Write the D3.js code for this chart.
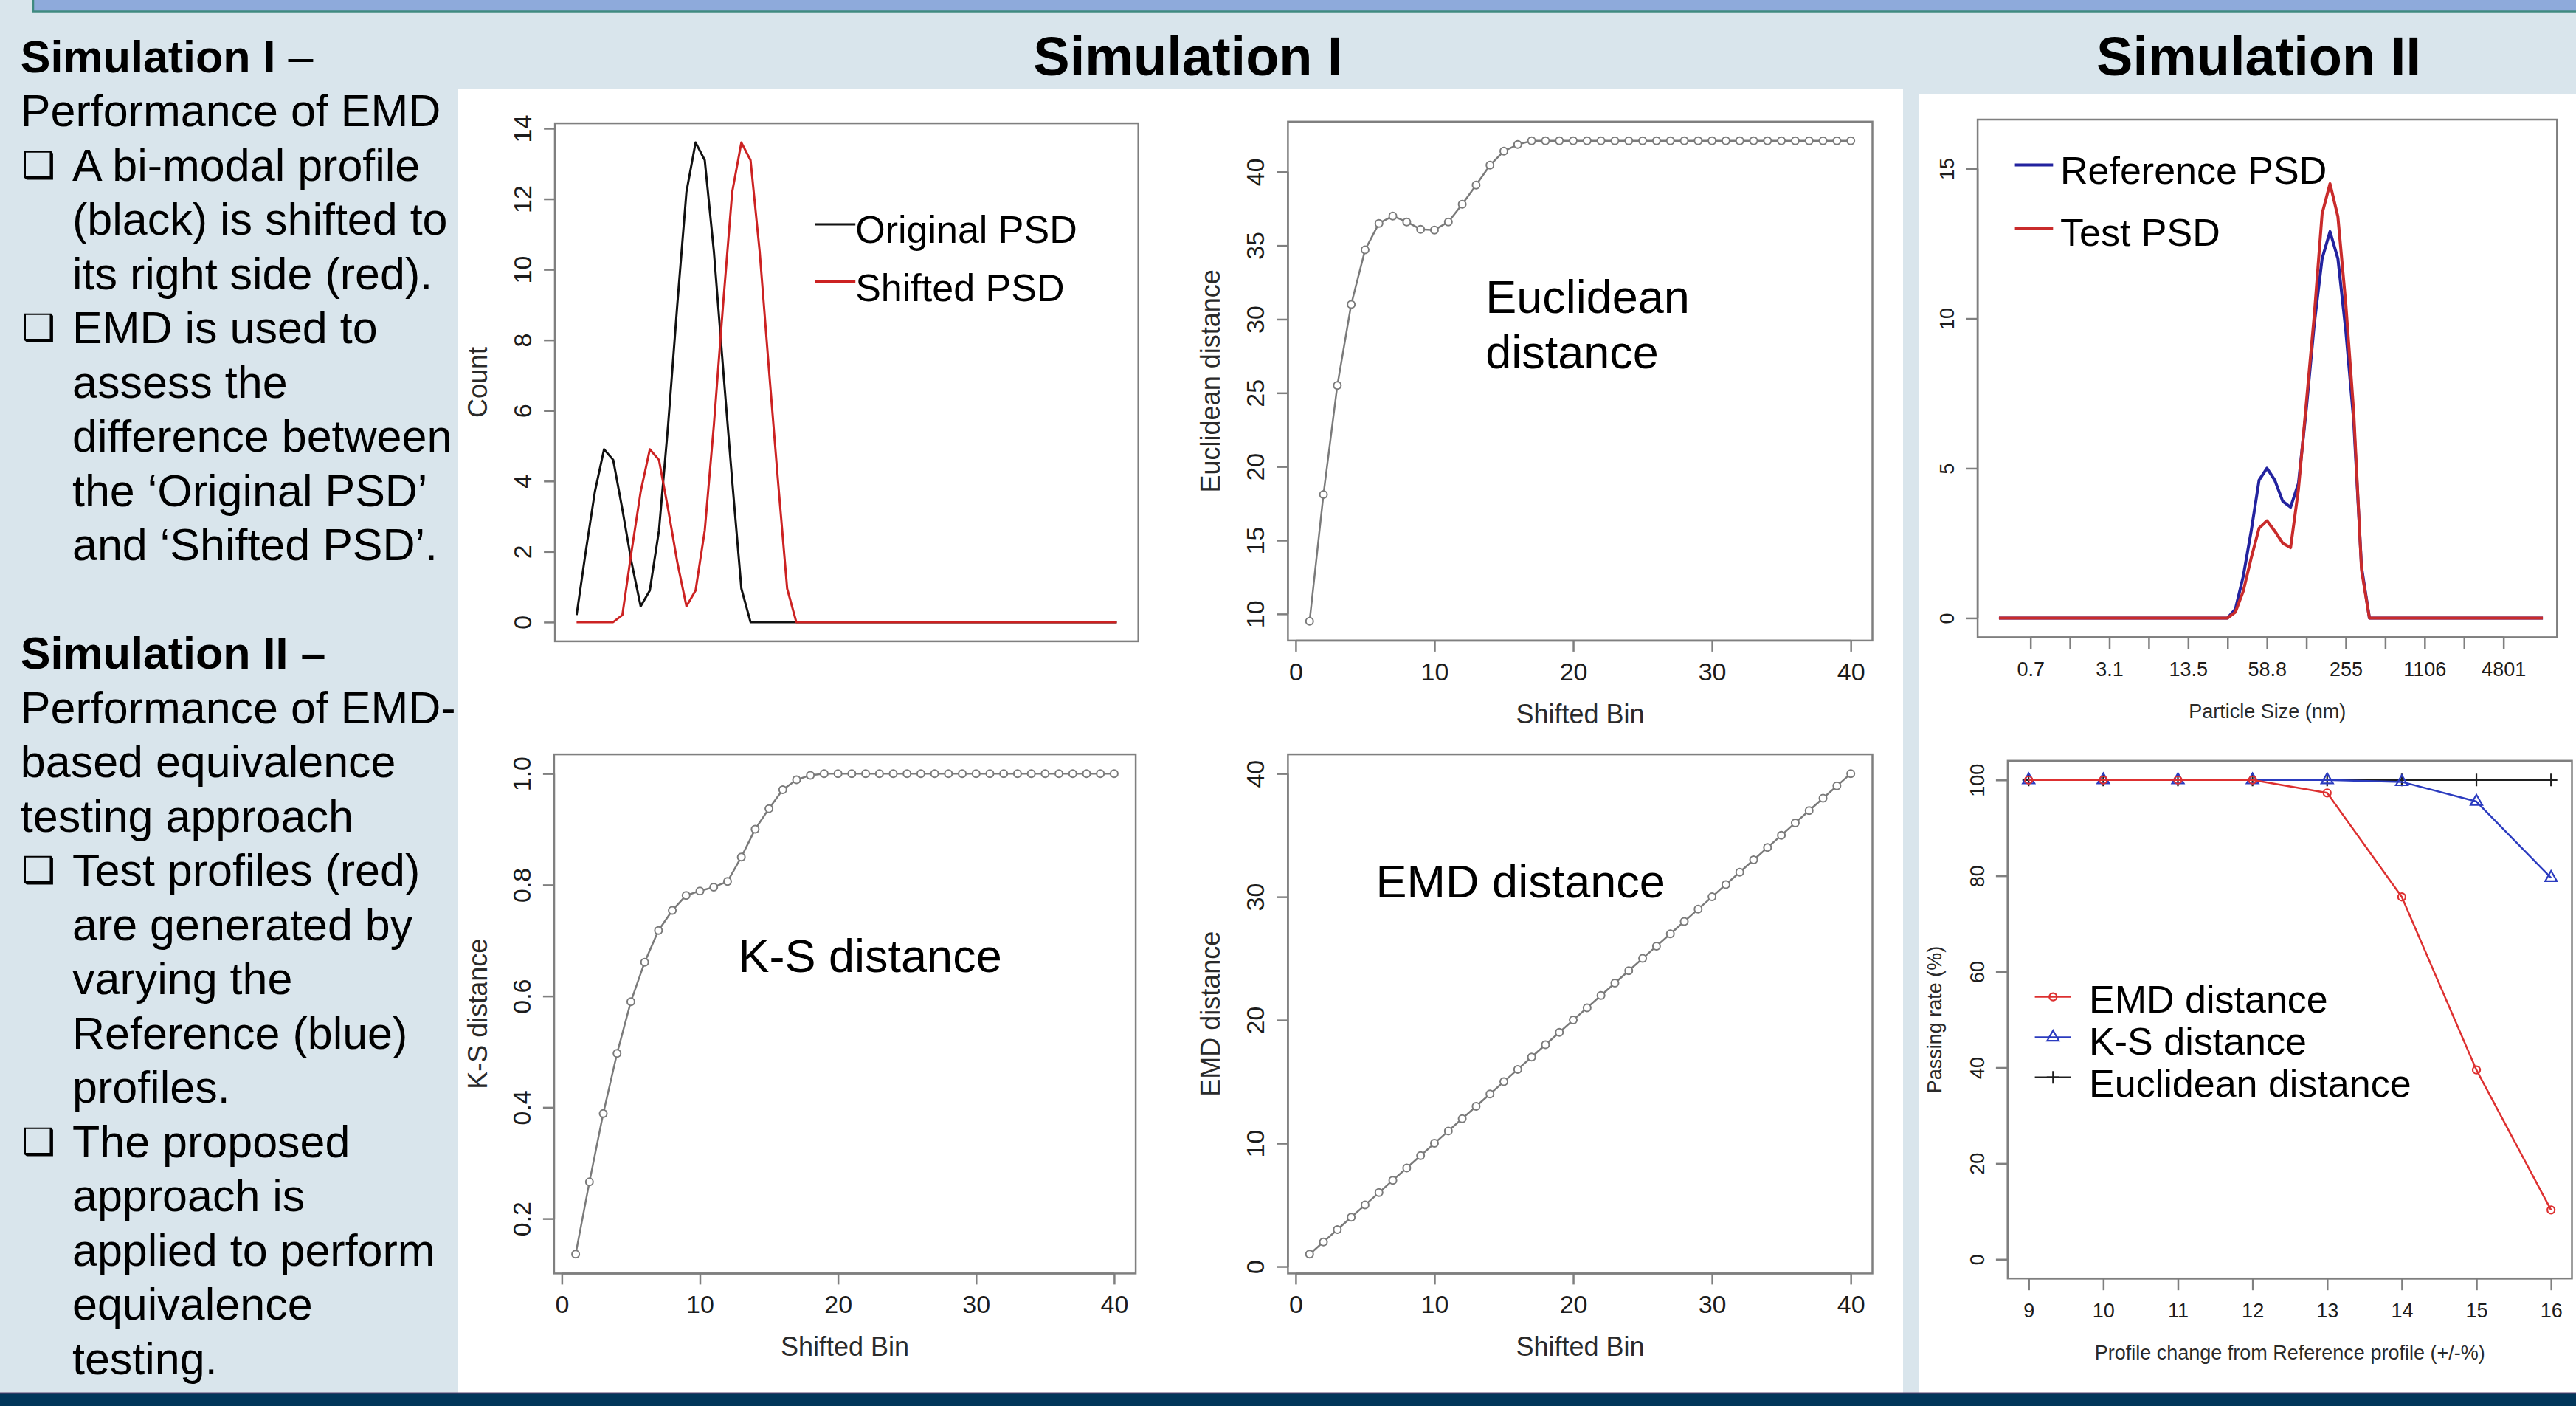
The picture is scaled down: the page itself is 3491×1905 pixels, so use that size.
<!DOCTYPE html>
<html><head><meta charset="utf-8">
<script src="https://cdn.jsdelivr.net/npm/d3@7"></script>
<style>html,body{margin:0;padding:0;background:#d9e5ec;} svg{display:block;}</style>
</head><body><svg id="chart" width="3491" height="1905"></svg>
<script>
// ---------------- DATA ----------------
const originalPSD = [0.2,2.0,3.7,4.9,4.6,3.2,1.7,0.45,0.9,2.6,5.6,9.0,12.2,13.6,13.1,10.5,7.2,4.0,0.95,0,
  0,0,0,0,0,0,0,0,0,0,0,0,0,0,0,0,0,0,0,0,0,0,0,0,0,0,0,0,0,0,0,0,0,0,0,0,0,0,0,0];
const shiftedPSD = [0,0,0,0,0,0.2,2.0,3.7,4.9,4.6,3.2,1.7,0.45,0.9,2.6,5.6,9.0,12.2,13.6,13.1,10.5,7.2,4.0,0.95,0,
  0,0,0,0,0,0,0,0,0,0,0,0,0,0,0,0,0,0,0,0,0,0,0,0,0,0,0,0,0,0,0,0,0,0,0];
const countTicks = [0,2,4,6,8,10,12,14];

const shiftedBinTicks = [0,10,20,30,40];
const euclideanDist = [9.5,18.1,25.5,31.0,34.7,36.5,37.0,36.6,36.1,36.05,36.6,37.8,39.1,40.45,41.4,41.85,
  42.1,42.1,42.1,42.1,42.1,42.1,42.1,42.1,42.1,42.1,42.1,42.1,42.1,42.1,42.1,42.1,42.1,42.1,42.1,42.1,42.1,42.1,42.1,42.1];
const euclideanTicks = [10,15,20,25,30,35,40];
const ksDist = [0.136,0.266,0.389,0.497,0.59,0.661,0.718,0.754,0.781,0.789,0.796,0.806,0.85,0.90,0.937,0.971,0.989,0.997,
  1,1,1,1,1,1,1,1,1,1,1,1,1,1,1,1,1,1,1,1,1,1];
const ksTicks = [0.2,0.4,0.6,0.8,1.0];
const emdDist = [1,2,3,4,5,6,7,8,9,10,11,12,13,14,15,16,17,18,19,20,21,22,23,24,25,26,27,28,29,30,31,32,33,34,35,36,37,38,39,40];
const emdTicks = [0,10,20,30,40];

const referencePSD = [0,0,0,0,0,0,0,0,0,0,0,0,0,0,0,0,0,0,0,0,0,0,0,0,0,0,0,0,0,
  0,0.3,1.4,2.9,4.6,5.0,4.6,3.9,3.7,4.5,7.0,9.8,12.0,12.9,12.0,9.6,6.6,1.7,0,
  0,0,0,0,0,0,0,0,0,0,0,0,0,0,0,0,0,0,0,0,0,0];
const testPSD = [0,0,0,0,0,0,0,0,0,0,0,0,0,0,0,0,0,0,0,0,0,0,0,0,0,0,0,0,0,
  0,0.2,0.9,2.0,3.0,3.25,2.9,2.5,2.35,4.3,7.2,10.1,13.5,14.5,13.4,10.5,6.9,1.6,0,
  0,0,0,0,0,0,0,0,0,0,0,0,0,0,0,0,0,0,0,0,0,0];
const psdTickBins = [5,10,15,20,25,30,35,40,45,50,55,60,65];
const psdTickLabels = ["0.7","","3.1","","13.5","","58.8","","255","","1106","","4801"];
const psdYTicks = [0,5,10,15];

const profileChange = [9,10,11,12,13,14,15,16];
const passEMD = [100,100,100,100,97.3,75.6,39.5,10.3];
const passKS = [100,100,100,100,100,99.6,95.5,79.6];
const passEuclid = [100,100,100,100,100,100,100,100];
const passYTicks = [0,20,40,60,80,100];

// ---------------- DRAWING ----------------
const FONT = '"Liberation Sans", Arial, Helvetica, sans-serif';
const svg = d3.select("#chart");
const AX = "#7f7f7f";

svg.append("rect").attr("width",3491).attr("height",1905).attr("fill","#d9e5ec");
// top bar
svg.append("rect").attr("x",45).attr("y",0).attr("width",3446).attr("height",15).attr("fill","#8eaadb");
svg.append("line").attr("x1",45).attr("x2",45).attr("y1",0).attr("y2",16).attr("stroke","#3f8a80").attr("stroke-width",2.5);
svg.append("line").attr("x1",44).attr("x2",3491).attr("y1",15.5).attr("y2",15.5).attr("stroke","#3f8a80").attr("stroke-width",2.5);
// panels
svg.append("rect").attr("x",621).attr("y",121).attr("width",1958).attr("height",1767).attr("fill","#ffffff");
svg.append("rect").attr("x",2601).attr("y",127).attr("width",890).attr("height",1761).attr("fill","#ffffff");
// bottom bar
svg.append("rect").attr("x",0).attr("y",1887).attr("width",3491).attr("height",18).attr("fill","#02365a");
svg.append("line").attr("x1",0).attr("x2",3491).attr("y1",1887.5).attr("y2",1887.5).attr("stroke","#5b4270").attr("stroke-width",2);

function txt(parent, x, y, s, o = {}) {
  return parent.append("text").attr("x", x).attr("y", y).text(s)
    .attr("font-family", o.family || FONT).attr("font-size", o.fs || 20)
    .attr("font-weight", o.weight || 400).attr("fill", o.fill || "#000")
    .attr("text-anchor", o.anchor || "start");
}

// section titles
txt(svg, 1610, 101.5, "Simulation I", {fs:74, weight:700, anchor:"middle"});
txt(svg, 3061, 101.5, "Simulation II", {fs:74, weight:700, anchor:"middle"});

// left text
const leftLines = [
  {k:0, parts:[["Simulation I",700],[" –",400]]},
  {k:1, parts:[["Performance of EMD",400]]},
  {k:2, b:true, parts:[["A bi-modal profile",400]]},
  {k:3, i:true, parts:[["(black) is shifted to",400]]},
  {k:4, i:true, parts:[["its right side (red).",400]]},
  {k:5, b:true, parts:[["EMD is used to",400]]},
  {k:6, i:true, parts:[["assess the",400]]},
  {k:7, i:true, parts:[["difference between",400]]},
  {k:8, i:true, parts:[["the ‘Original PSD’",400]]},
  {k:9, i:true, parts:[["and ‘Shifted PSD’.",400]]},
  {k:11, parts:[["Simulation II –",700]]},
  {k:12, parts:[["Performance of EMD-",400]]},
  {k:13, parts:[["based equivalence",400]]},
  {k:14, parts:[["testing approach",400]]},
  {k:15, b:true, parts:[["Test profiles (red)",400]]},
  {k:16, i:true, parts:[["are generated by",400]]},
  {k:17, i:true, parts:[["varying the",400]]},
  {k:18, i:true, parts:[["Reference (blue)",400]]},
  {k:19, i:true, parts:[["profiles.",400]]},
  {k:20, b:true, parts:[["The proposed",400]]},
  {k:21, i:true, parts:[["approach is",400]]},
  {k:22, i:true, parts:[["applied to perform",400]]},
  {k:23, i:true, parts:[["equivalence",400]]},
  {k:24, i:true, parts:[["testing.",400]]}
];
leftLines.forEach(L => {
  const yb = 97.7 + 73.5 * L.k;
  const xs = (L.b || L.i) ? 98 : 27.8;
  const t = svg.append("text").attr("x", xs).attr("y", yb).attr("font-family", FONT).attr("font-size", 61).attr("fill","#000");
  L.parts.forEach(p => t.append("tspan").attr("font-weight", p[1]).text(p[0]));
  if (L.b) {
    svg.append("text").attr("x", 30).attr("y", yb - 4).attr("font-family", '"DejaVu Sans", sans-serif')
      .attr("font-size", 50).attr("fill","#000").text("❑");
  }
});

function rExpand(ext) { const d = (ext[1] - ext[0]) * 0.04; return [ext[0] - d, ext[1] + d]; }

function makePlot(c) {
  const g = svg.append("g");
  const [x0,y0,x1,y1] = c.box;
  const x = d3.scaleLinear().domain(c.xdom).range([x0,x1]);
  const y = d3.scaleLinear().domain(c.ydom).range([y1,y0]);
  if (c.xticks) {
    const ax = g.append("g").attr("transform", `translate(0,${y1})`)
      .call(d3.axisBottom(x).tickValues(c.xticks).tickSize(c.tick).tickFormat(c.xfmt || (d => String(d))));
    ax.select(".domain").remove();
    ax.attr("font-size", c.fs).attr("font-family", FONT);
    ax.selectAll(".tick line").attr("stroke", AX).attr("stroke-width", 2.5);
    ax.selectAll(".tick text").attr("y", c.xlabOff).attr("dy", 0).attr("fill", "#1c1c1c");
    ax.append("line").attr("x1", x(c.xticks[0])).attr("x2", x(c.xticks[c.xticks.length-1]))
      .attr("stroke", AX).attr("stroke-width", 2.5);
  }
  const ay = g.append("g").attr("transform", `translate(${x0},0)`)
    .call(d3.axisLeft(y).tickValues(c.yticks).tickSize(c.tick).tickFormat(c.yfmt || (d => String(d))));
  ay.select(".domain").remove();
  ay.attr("font-size", c.fs).attr("font-family", FONT);
  ay.selectAll(".tick line").attr("stroke", AX).attr("stroke-width", 2.5);
  ay.selectAll(".tick text").attr("x", 0).attr("y", -c.ylabOff).attr("dy", 0)
    .attr("transform", "rotate(-90)").attr("text-anchor", "middle").attr("fill", "#1c1c1c");
  ay.append("line").attr("y1", y(c.yticks[0])).attr("y2", y(c.yticks[c.yticks.length-1]))
    .attr("stroke", AX).attr("stroke-width", 2.5);
  g.append("rect").attr("x", x0).attr("y", y0).attr("width", x1 - x0).attr("height", y1 - y0)
    .attr("fill", "none").attr("stroke", AX).attr("stroke-width", 2.5);
  if (c.xtitle) {
    txt(g, (x0 + x1) / 2, y1 + c.xtitleOff, c.xtitle, {fs: c.tfs, anchor: "middle", fill: "#2a2a2a"});
  }
  if (c.ytitle) {
    txt(g, 0, 0, c.ytitle, {fs: c.tfs, anchor: "middle", fill: "#2a2a2a"})
      .attr("transform", `translate(${x0 - c.ytitleOff},${(y0 + y1) / 2}) rotate(-90)`);
  }
  return {g, x, y};
}

function drawLine(p, data, color, w, xacc) {
  p.g.append("path").datum(data)
    .attr("d", d3.line().x((d,i) => p.x(xacc ? xacc(i) : i + 1)).y(d => p.y(d)))
    .attr("fill", "none").attr("stroke", color).attr("stroke-width", w).attr("stroke-linejoin", "round");
}
function drawCircles(p, data, color, r, fill, xacc) {
  p.g.append("g").selectAll("circle").data(data).join("circle")
    .attr("cx", (d,i) => p.x(xacc ? xacc(i) : i + 1)).attr("cy", d => p.y(d)).attr("r", r)
    .attr("fill", fill).attr("stroke", color).attr("stroke-width", 2);
}

// ---- Plot 1: Count ----
const p1 = makePlot({box:[752.1,167.1,1542.7,868.9], xdom: rExpand([1, originalPSD.length]),
  ydom: rExpand(d3.extent(originalPSD.concat(shiftedPSD))), yticks: countTicks, tick: 15, fs: 34,
  ylabOff: 32, tfs: 36, ytitle: "Count", ytitleOff: 92});
drawLine(p1, originalPSD, "#111111", 3);
drawLine(p1, shiftedPSD, "#cc2222", 3);
p1.g.append("line").attr("x1",1104.7).attr("x2",1159.2).attr("y1",304).attr("y2",304).attr("stroke","#111").attr("stroke-width",3);
p1.g.append("line").attr("x1",1104.7).attr("x2",1159.2).attr("y1",381.5).attr("y2",381.5).attr("stroke","#cc2222").attr("stroke-width",3);
txt(p1.g, 1159.2, 329.2, "Original PSD", {fs:52});
txt(p1.g, 1159.2, 407.6, "Shifted PSD", {fs:52});

// ---- Plot 2: Euclidean ----
const p2 = makePlot({box:[1745.4,164.8,2537.5,867.9], xdom: rExpand([1,40]), ydom: rExpand(d3.extent(euclideanDist)),
  xticks: shiftedBinTicks, yticks: euclideanTicks, tick: 15, fs: 34, xlabOff: 54, ylabOff: 32,
  tfs: 36, xtitle: "Shifted Bin", xtitleOff: 112, ytitle: "Euclidean distance", ytitleOff: 92});
drawLine(p2, euclideanDist, "#7a7a7a", 2.5);
drawCircles(p2, euclideanDist, "#7a7a7a", 5, "#fff");
txt(p2.g, 2013.2, 424.2, "Euclidean", {fs:63});
txt(p2.g, 2013.2, 498.9, "distance", {fs:63});

// ---- Plot 3: K-S ----
const p3 = makePlot({box:[750.9,1022.1,1539.1,1725.4], xdom: rExpand([1,40]), ydom: rExpand(d3.extent(ksDist)),
  xticks: shiftedBinTicks, yticks: ksTicks, yfmt: d3.format(".1f"), tick: 15, fs: 34, xlabOff: 54, ylabOff: 32,
  tfs: 36, xtitle: "Shifted Bin", xtitleOff: 112, ytitle: "K-S distance", ytitleOff: 91});
drawLine(p3, ksDist, "#7a7a7a", 2.5);
drawCircles(p3, ksDist, "#7a7a7a", 5, "#fff");
txt(p3.g, 1000.5, 1316.8, "K-S distance", {fs:63});

// ---- Plot 4: EMD ----
const p4 = makePlot({box:[1745.4,1022.1,2537.5,1725.4], xdom: rExpand([1,40]), ydom: rExpand(d3.extent(emdDist)),
  xticks: shiftedBinTicks, yticks: emdTicks, tick: 15, fs: 34, xlabOff: 54, ylabOff: 32,
  tfs: 36, xtitle: "Shifted Bin", xtitleOff: 112, ytitle: "EMD distance", ytitleOff: 92});
drawLine(p4, emdDist, "#7a7a7a", 2.5);
drawCircles(p4, emdDist, "#7a7a7a", 5, "#fff");
txt(p4.g, 1864.6, 1216.2, "EMD distance", {fs:63});

// ---- Plot 5: PSD (Simulation II) ----
const p5 = makePlot({box:[2680.1,162,3465.3,863.4], xdom: [-1.7, 71.8], ydom: rExpand([0,16]),
  xticks: psdTickBins, xfmt: (d,i) => psdTickLabels[i], yticks: psdYTicks, tick: 16, fs: 27,
  xlabOff: 52.5, ylabOff: 32, tfs: 27, xtitle: "Particle Size (nm)", xtitleOff: 110});
drawLine(p5, referencePSD, "#23239f", 4);
drawLine(p5, testPSD, "#c92b2b", 4);
p5.g.append("line").attr("x1",2730.6).attr("x2",2782.3).attr("y1",223.4).attr("y2",223.4).attr("stroke","#23239f").attr("stroke-width",4);
p5.g.append("line").attr("x1",2730.6).attr("x2",2782.3).attr("y1",309.5).attr("y2",309.5).attr("stroke","#c92b2b").attr("stroke-width",4);
txt(p5.g, 2792, 249.3, "Reference PSD", {fs:52});
txt(p5.g, 2792, 332.5, "Test PSD", {fs:52});

// ---- Plot 6: Passing rate ----
const p6 = makePlot({box:[2720.9,1030.8,3485.5,1732.2], xdom: rExpand([9,16]), ydom: rExpand([0,100]),
  xticks: profileChange, yticks: passYTicks, tick: 16, fs: 27, xlabOff: 52.5, ylabOff: 32,
  tfs: 27, xtitle: "Profile change from Reference profile (+/-%)", xtitleOff: 110,
  ytitle: "Passing rate (%)", ytitleOff: 90});
const plusType = {draw(ctx, size) { const r = Math.sqrt(size) / 2; ctx.moveTo(-r,0); ctx.lineTo(r,0); ctx.moveTo(0,-r); ctx.lineTo(0,r); }};
const sym = {
  circle: d3.symbol().type(d3.symbolCircle).size(80),
  triangle: d3.symbol().type(d3.symbolTriangle).size(110),
  plus: d3.symbol().type(plusType).size(290)
};
const passSeries = [
  {name:"Euclidean distance", vals: passEuclid, color:"#1e1e1e", s:"plus"},
  {name:"K-S distance", vals: passKS, color:"#2b3bbf", s:"triangle"},
  {name:"EMD distance", vals: passEMD, color:"#dd3030", s:"circle"}
];
passSeries.forEach(S => {
  drawLine(p6, S.vals, S.color, 2.5, i => profileChange[i]);
  p6.g.append("g").selectAll("path").data(S.vals).join("path")
    .attr("transform", (d,i) => `translate(${p6.x(profileChange[i])},${p6.y(d)})`)
    .attr("d", sym[S.s]()).attr("fill", "none").attr("stroke", S.color).attr("stroke-width", 2.2);
});
const legendRows = [
  {series: passSeries[2], y: 1350.6, tb: 1372.2},
  {series: passSeries[1], y: 1405.5, tb: 1428.8},
  {series: passSeries[0], y: 1459.7, tb: 1486}
];
legendRows.forEach(L => {
  p6.g.append("line").attr("x1",2757.6).attr("x2",2807).attr("y1",L.y).attr("y2",L.y)
    .attr("stroke", L.series.color).attr("stroke-width", 2.5);
  p6.g.append("path").attr("transform", `translate(2782.3,${L.y})`).attr("d", sym[L.series.s]())
    .attr("fill","none").attr("stroke", L.series.color).attr("stroke-width", 2.2);
  txt(p6.g, 2831.1, L.tb, L.series.name, {fs:52});
});
</script></body></html>
